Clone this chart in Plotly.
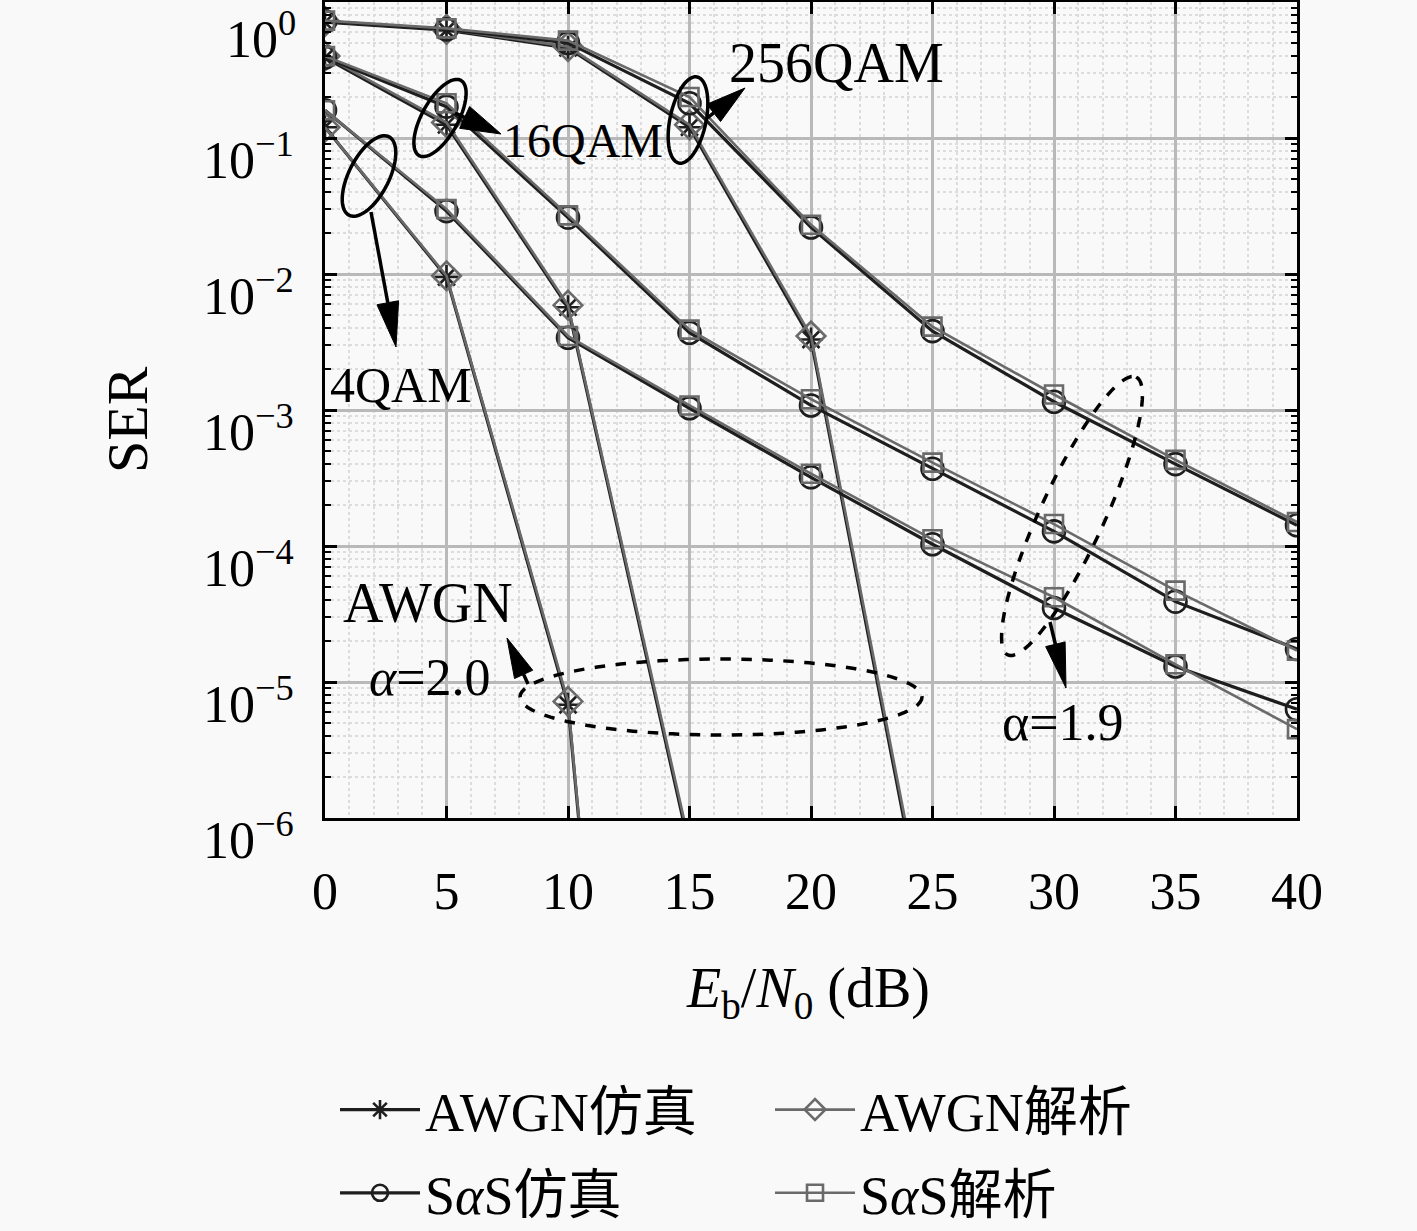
import math
import plotly.graph_objects as go

# ---------------- data ----------------
x_db = [0, 5, 10, 15, 20, 25, 30, 35, 40]

# AWGN (alpha = 2.0)
awgn_sim_4qam = [0.12, 0.0095, 6.8e-6, 2e-15]
awgn_ana_4qam = [0.12, 0.0097, 7.2e-6, 2e-15]
awgn_sim_16qam = [0.39, 0.125, 5.7e-3, 6e-7]
awgn_ana_16qam = [0.40, 0.13, 5.9e-3, 6.5e-7]
awgn_sim_256qam = [0.71, 0.62, 0.46, 0.12, 3.3e-3, 8e-8]
awgn_ana_256qam = [0.72, 0.63, 0.47, 0.125, 3.5e-3, 9e-8]

# SaS (alpha = 1.9)
sas_sim_4qam = [0.16, 0.029, 3.4e-3, 1.03e-3, 3.2e-4, 1.03e-4, 3.5e-5, 1.3e-5, 6.3e-6]
sas_ana_4qam = [0.16, 0.030, 3.5e-3, 1.08e-3, 3.4e-4, 1.12e-4, 4.2e-5, 1.35e-5, 4.5e-6]
sas_sim_16qam = [0.39, 0.17, 0.026, 3.7e-3, 1.08e-3, 3.7e-4, 1.28e-4, 3.9e-5, 1.75e-5]
sas_ana_16qam = [0.40, 0.18, 0.027, 3.9e-3, 1.2e-3, 4.1e-4, 1.45e-4, 4.7e-5, 1.7e-5]
sas_sim_256qam = [0.72, 0.63, 0.50, 0.18, 0.022, 3.8e-3, 1.15e-3, 4.0e-4, 1.42e-4]
sas_ana_256qam = [0.73, 0.64, 0.52, 0.20, 0.023, 4.1e-3, 1.3e-3, 4.3e-4, 1.5e-4]

legend_names = ["AWGN仿真", "AWGN解析", "S<i>α</i>S仿真", "S<i>α</i>S解析"]
y_tick_vals = [1e-6, 1e-5, 1e-4, 1e-3, 1e-2, 1e-1]
y_tick_text = ["10<sup>−6</sup>", "10<sup>−5</sup>", "10<sup>−4</sup>", "10<sup>−3</sup>",
               "10<sup>−2</sup>", "10<sup>−1</sup>"]
y_top_label = "10<sup>0</sup>"
x_tick_vals = [0, 5, 10, 15, 20, 25, 30, 35, 40]

# ---------------- styling ----------------
FONT = "Liberation Serif, DejaVu Serif, Noto Sans CJK SC, serif"
SIM = "#1e1e1e"
ANA = "#6a6a6a"
BG = "#f9f9f9"

W, H = 1417, 1231
L, R, T, B = 325, 1297, 2, 818
PW, PH = R - L, B - T


def px(xp):
    return (xp - L) / PW


def py(yp):
    return (B - yp) / PH


styles = [
    dict(color=SIM, symbol="asterisk-open", size=20, lw=3.2),
    dict(color=ANA, symbol="diamond-open", size=22, lw=2.6),
    dict(color=SIM, symbol="circle-open", size=22, lw=3.2),
    dict(color=ANA, symbol="square-open", size=18, lw=2.6),
]

groups = [
    [awgn_sim_4qam, awgn_sim_16qam, awgn_sim_256qam],
    [awgn_ana_4qam, awgn_ana_16qam, awgn_ana_256qam],
    [sas_sim_4qam, sas_sim_16qam, sas_sim_256qam],
    [sas_ana_4qam, sas_ana_16qam, sas_ana_256qam],
]

fig = go.Figure()
for gi, (name, st, series) in enumerate(zip(legend_names, styles, groups)):
    for si, vals in enumerate(series):
        fig.add_trace(go.Scatter(
            x=x_db[:len(vals)], y=vals, mode="lines+markers",
            name=name, legendgroup=name, showlegend=(si == 0),
            line=dict(color=st["color"], width=st["lw"]),
            marker=dict(symbol=st["symbol"], size=st["size"], color=st["color"],
                        line=dict(color=st["color"], width=2.6)),
        ))

shapes = []


def ellipse(cx, cy, a, b, phi_deg, dash="solid", n=90):
    phi = math.radians(phi_deg)
    mx, my = math.sin(phi), -math.cos(phi)
    nx, ny = math.cos(phi), math.sin(phi)
    pts = []
    for k in range(n + 1):
        t = 2 * math.pi * k / n
        u, v = a * math.cos(t), b * math.sin(t)
        pts.append((px(cx + u * mx + v * nx), py(cy + u * my + v * ny)))
    path = "M " + " L ".join(f"{p[0]:.5f},{p[1]:.5f}" for p in pts) + " Z"
    shapes.append(dict(type="path", path=path, xref="paper", yref="paper",
                       line=dict(color="black", width=3.5, dash=dash),
                       fillcolor="rgba(0,0,0,0)", layer="above"))


def arrow(tail, tip, hl=42, hw=22):
    (x0, y0), (x1, y1) = tail, tip
    d = math.hypot(x1 - x0, y1 - y0)
    ux, uy = (x1 - x0) / d, (y1 - y0) / d
    bx, by = x1 - ux * hl, y1 - uy * hl
    shapes.append(dict(type="line", xref="paper", yref="paper",
                       x0=px(x0), y0=py(y0), x1=px(bx), y1=py(by),
                       line=dict(color="black", width=3.5), layer="above"))
    p1 = (bx - uy * hw / 2, by + ux * hw / 2)
    p2 = (bx + uy * hw / 2, by - ux * hw / 2)
    path = (f"M {px(x1):.5f},{py(y1):.5f} L {px(p1[0]):.5f},{py(p1[1]):.5f} "
            f"L {px(p2[0]):.5f},{py(p2[1]):.5f} Z")
    shapes.append(dict(type="path", path=path, xref="paper", yref="paper",
                       line=dict(color="black", width=1), fillcolor="black", layer="above"))


ellipse(369, 176, 44, 20, 27)
ellipse(440, 118, 43, 18, 29)
ellipse(688, 120, 44, 18, 12)
ellipse(721, 697, 201, 38, 90, dash="dash")
ellipse(1072, 516, 153, 32, 24.8, dash="dash")

arrow((371, 212), (396, 347), 45, 22)
arrow((455, 113), (501, 134), 40, 24)
arrow((706, 119), (745, 88), 40, 22)
arrow((528, 684), (507, 638), 40, 20)
arrow((1050, 622), (1066, 688), 45, 20)

annotations = []


def text(s, xc, yc, size=52, angle=0, xanchor="center", yanchor="middle"):
    annotations.append(dict(text=s, x=px(xc), y=py(yc), xref="paper", yref="paper",
                            xanchor=xanchor, yanchor=yanchor, showarrow=False,
                            textangle=angle, font=dict(family=FONT, size=size, color="black")))


text("4QAM", 401, 385, 50)
text("16QAM", 583, 141, 48)
text("256QAM", 836, 63, 56)
text("AWGN", 428, 603, 56)
text("<i>α</i>=2.0", 430, 677, 52)
text("α=1.9", 1063, 722, 52)
text("SER", 128, 420, 58, -90)
text("<i>E</i><sub>b</sub>/<i>N</i><sub>0</sub> (dB)", 808, 992, 56)
# top y-axis tick label (the axis hides a label at the very range end)
text(y_top_label, 298, 1, 52, xanchor="right", yanchor="top")

axis_common = dict(showline=True, linecolor="black", linewidth=3, mirror="ticks",
                   ticks="inside", ticklen=12, tickwidth=3, tickcolor="black",
                   showgrid=True, gridcolor="#b9b9b9", gridwidth=2.5, zeroline=False,
                   tickfont=dict(family=FONT, size=52, color="black"))

fig.update_layout(
    width=W, height=H,
    margin=dict(l=L, r=W - R, t=T, b=H - B, autoexpand=False),
    paper_bgcolor=BG, plot_bgcolor=BG,
    font=dict(family=FONT, size=52, color="black"),
    xaxis=dict(range=[0, 40], tickvals=x_tick_vals, ticklabelstandoff=26,
               minor=dict(dtick=1, showgrid=True, gridcolor="#dcdcdc", griddash="dot",
                          gridwidth=1.5, ticks=""),
               **axis_common),
    yaxis=dict(type="log", range=[-6, 0], tickvals=y_tick_vals, ticktext=y_tick_text,
               ticklabelstandoff=18, ticklabelshift=22,
               minor=dict(dtick="D1", showgrid=True, gridcolor="#dcdcdc", griddash="dot",
                          gridwidth=1.5, ticks="inside", ticklen=6, tickwidth=2,
                          tickcolor="black"),
               **axis_common),
    legend=dict(orientation="h", x=px(335), y=py(1068), xanchor="left", yanchor="top",
                entrywidth=340, entrywidthmode="pixels", itemwidth=80,
                bgcolor="rgba(0,0,0,0)", font=dict(family=FONT, size=54, color="black")),
    shapes=shapes, annotations=annotations,
    showlegend=True,
)

fig.write_html("out.html", config={"displayModeBar": False},
               post_script="document.body.style.margin='0px';")
